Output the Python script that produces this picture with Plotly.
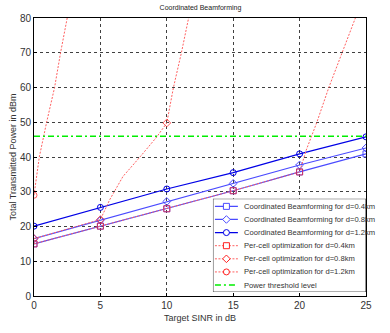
import plotly.graph_objects as go

# ---- data ----
snr = [0, 5, 10, 15, 20, 25]
cb_04 = [15.0, 20.1, 25.1, 30.3, 35.7, 40.9]
cb_08 = [16.5, 21.8, 27.2, 32.4, 37.7, 42.6]
cb_12 = [20.1, 25.5, 30.8, 35.5, 40.9, 45.8]

pc04_x = [0, 5, 10, 15, 20, 20.5, 21.3, 22.2, 23.2, 24.2, 24.35]
pc04_y = [15.0, 20.1, 25.1, 30.3, 35.7, 42.0, 50.0, 60.0, 70.0, 80.0, 81.5]
pc04_mark = [1, 1, 1, 1, 1, 0, 0, 0, 0, 0, 0]

pc08_x = [0, 5, 5.7, 6.7, 8.0, 9.25, 10, 10.5, 11.1, 11.65, 11.75]
pc08_y = [16.5, 22.0, 27.7, 34.4, 40.1, 45.8, 49.8, 60.0, 70.0, 80.0, 82.0]
pc08_mark = [1, 1, 0, 0, 0, 0, 1, 0, 0, 0, 0]

pc12_x = [0, 0.4, 0.95, 1.55, 2.0, 2.5, 2.6]
pc12_y = [29.0, 40.0, 50.0, 60.0, 70.0, 80.0, 82.0]
pc12_mark = [1, 0, 0, 0, 0, 0, 0]

threshold_x = [0, 25]
threshold_y = [46, 46]

names = [
    "Coordinated Beamforming for d=0.4km",
    "Coordinated Beamforming for d=0.8km",
    "Coordinated Beamforming for d=1.2km",
    "Per-cell optimization for d=0.4km",
    "Per-cell optimization for d=0.8km",
    "Per-cell optimization for d=1.2km",
    "Power threshold level",
]

blue_l = "#4a4aff"
blue_d = "#0000e6"
red_line = "#ff6060"
red_mark = "#ff2020"
green = "#00ee00"
msz = 6
font_main = "Liberation Sans Narrow, Arial Narrow, Liberation Sans, Arial, sans-serif"

styles = [
    dict(line=dict(color=blue_l, width=1.2), sym="square-open", mcol=blue_l),
    dict(line=dict(color=blue_l, width=1.2), sym="diamond-open", mcol=blue_l),
    dict(line=dict(color=blue_d, width=1.2), sym="circle-open", mcol=blue_d),
    dict(line=dict(color=red_line, width=1, dash="2px,1.5px"), sym="square-open", mcol=red_mark),
    dict(line=dict(color=red_line, width=1, dash="2px,1.5px"), sym="diamond-open", mcol=red_mark),
    dict(line=dict(color=red_line, width=1, dash="2px,1.5px"), sym="circle-open", mcol=red_mark),
    dict(line=dict(color=green, width=1.5, dash="6px,3px,2px,3px"), sym=None, mcol=green),
]

fig = go.Figure()

series = [
    (snr, cb_04, None),
    (snr, cb_08, None),
    (snr, cb_12, None),
    (pc04_x, pc04_y, pc04_mark),
    (pc08_x, pc08_y, pc08_mark),
    (pc12_x, pc12_y, pc12_mark),
    (threshold_x, threshold_y, "none"),
]

for (x, y, m), st, nm in zip(series, styles, names):
    if m == "none":
        fig.add_trace(go.Scatter(x=x, y=y, name=nm, mode="lines", line=st["line"],
                                 showlegend=False))
        continue
    size = msz if m is None else [msz * v for v in m]
    fig.add_trace(go.Scatter(
        x=x, y=y, name=nm, mode="lines+markers", line=st["line"],
        marker=dict(symbol=st["sym"], size=size, color=st["mcol"],
                    line=dict(color=st["mcol"], width=1)),
        showlegend=False,
    ))

# ---- custom compact legend (MATLAB-style box), drawn above the data ----
fig.add_shape(type="rect", xref="x2", yref="y2", x0=0, x1=1, y0=0, y1=1,
              line=dict(color="#333333", width=1), fillcolor="white", layer="above")

row_top = 0.918
row_step = 0.1404
mx = 0.088
h = msz / 2
for i, (nm, st) in enumerate(zip(names, styles)):
    yy = row_top - i * row_step
    fig.add_shape(type="line", xref="x2", yref="y2", x0=0.013, x1=0.163,
                  y0=yy, y1=yy, line=st["line"], layer="above")
    sym = st["sym"]
    mline = dict(color=st["mcol"], width=1)
    common = dict(xref="x2", yref="y2", xsizemode="pixel", ysizemode="pixel",
                  xanchor=mx, yanchor=yy, line=mline, fillcolor="white",
                  layer="above")
    if sym == "square-open":
        fig.add_shape(type="rect", x0=-h, x1=h, y0=-h, y1=h, **common)
    elif sym == "circle-open":
        fig.add_shape(type="circle", x0=-h, x1=h, y0=-h, y1=h, **common)
    elif sym == "diamond-open":
        d = h + 0.8
        fig.add_shape(type="path",
                      path=f"M0,{-d} L{d},0 L0,{d} L{-d},0 Z", **common)
    fig.add_annotation(x=0.19, y=yy, xref="x2", yref="y2", text=nm,
                       showarrow=False, xanchor="left", yanchor="middle",
                       font=dict(size=7.6, color="#333333", family=font_main))

axis_common = dict(
    showline=True, linecolor="black", linewidth=1, mirror=True,
    showgrid=True, gridcolor="#404040", gridwidth=1, griddash="dot",
    zeroline=False, ticks="inside", ticklen=3, tickcolor="black",
    tickfont=dict(size=10, color="#333333", family=font_main),
)

fig.update_layout(
    width=390, height=333,
    margin=dict(l=34, r=24, t=17, b=36),
    paper_bgcolor="white", plot_bgcolor="white",
    title=dict(text="Coordinated Beamforming", x=0.514, xanchor="center",
               y=0.977, yanchor="middle",
               font=dict(size=7, color="#222222", family=font_main)),
    xaxis=dict(range=[0, 25], tickvals=[0, 5, 10, 15, 20, 25],
               title=dict(text="Target SINR in dB", standoff=4,
                          font=dict(size=9, color="#333333", family=font_main)),
               **axis_common),
    yaxis=dict(range=[0, 80], tickvals=[0, 10, 20, 30, 40, 50, 60, 70, 80],
               title=dict(text="Total Transmitted Power in dBm", standoff=1,
                          font=dict(size=9, color="#333333", family=font_main)),
               **axis_common),
    xaxis2=dict(domain=[0.539, 1.0], range=[0, 1], anchor="y2", visible=False,
                fixedrange=True),
    yaxis2=dict(domain=[0.014, 0.35], range=[0, 1], anchor="x2", visible=False,
                fixedrange=True),
    showlegend=False,
)

fig.write_html("out.html")
